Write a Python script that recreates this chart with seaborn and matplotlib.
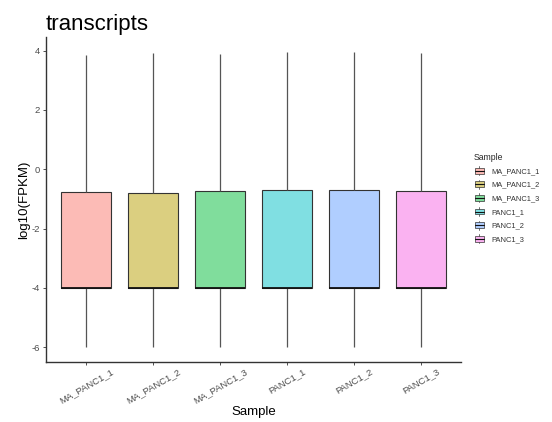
import numpy as np
import pandas as pd
import matplotlib
matplotlib.use("Agg")
import matplotlib.pyplot as plt
import seaborn as sns
from matplotlib.legend_handler import HandlerBase
from matplotlib.patches import Rectangle
from matplotlib.lines import Line2D
import matplotlib.colors as mcolors

samples = ["MA_PANC1_1", "MA_PANC1_2", "MA_PANC1_3", "PANC1_1", "PANC1_2", "PANC1_3"]
whisk_low = [-6.0, -6.0, -6.0, -6.0, -6.0, -6.0]
q1 = [-4.0, -4.0, -4.0, -4.0, -4.0, -4.0]
median = [-4.0, -4.0, -4.0, -4.0, -4.0, -4.0]
q3 = [-0.76, -0.80, -0.73, -0.70, -0.70, -0.73]
whisk_high = [3.86, 3.92, 3.89, 3.96, 3.94, 3.92]
base_colors = ["#F8766D", "#B79F00", "#00BA38", "#00BFC4", "#619CFF", "#F564E3"]
y_ticks = [-6, -4, -2, 0, 2, 4]
y_ticklabels = ["-6", "-4", "-2", "0", "2", "4"]

def blend(c, a=0.5):
    r, g, b = mcolors.to_rgb(c)
    return (1 - a + a * r, 1 - a + a * g, 1 - a + a * b)

fills = [blend(c) for c in base_colors]

rows = []
for s, lo, a, m, b, hi in zip(samples, whisk_low, q1, median, q3, whisk_high):
    for v in (lo, a, m, b, hi):
        rows.append({"Sample": s, "value": v})
df = pd.DataFrame(rows)

sns.set_theme(style="white")
plt.rcParams["font.family"] = ["Liberation Sans", "DejaVu Sans"]
plt.rcParams["axes.unicode_minus"] = False

W, H = 552, 422
fig = plt.figure(figsize=(W / 100, H / 100), dpi=100)
ax = fig.add_axes([46 / W, (H - 362) / H, (461 - 46) / W, (362 - 37) / H])

pal = dict(zip(samples, fills))
sns.boxplot(data=df, x="Sample", y="value", hue="Sample", order=samples,
            hue_order=samples, palette=pal, width=0.75, whis=np.inf,
            showcaps=False, dodge=False, legend=False, ax=ax,
            linewidth=0.8, linecolor="#333333",
            whiskerprops=dict(color="#555555", linewidth=0.9),
            medianprops=dict(color="#111111", linewidth=1.3),
            boxprops=dict(edgecolor="#333333", linewidth=0.8),
            saturation=1)

ax.set_xlim(-0.6, 5.6)
ax.set_ylim(-6.5, 4.46)
ax.set_yticks(y_ticks)
ax.set_yticklabels(y_ticklabels)
for sp in ["top", "right"]:
    ax.spines[sp].set_visible(False)
for sp in ["left", "bottom"]:
    ax.spines[sp].set_color("#333333")
    ax.spines[sp].set_linewidth(1.0)
ax.tick_params(axis="both", which="major", length=2.5, width=0.6, color="#333333",
               labelsize=6.8, labelcolor="#4D4D4D", pad=2, left=True, bottom=True)
ax.tick_params(axis="x", pad=1)
for lab in ax.get_xticklabels():
    lab.set_rotation(30)
    lab.set_ha("center")
    lab.set_va("top")
ax.set_xlabel("Sample", fontsize=9.5, color="black", labelpad=1)
ax.set_ylabel("log10(FPKM)", fontsize=9.5, color="black", labelpad=0.5)
ax.set_title("transcripts", loc="left", fontsize=16, color="black", pad=5)


class HandlerBox(HandlerBase):
    def create_artists(self, legend, orig_handle, xdescent, ydescent, width, height, fontsize, trans):
        x0, y0 = -xdescent, -ydescent
        cx = x0 + width / 2
        wl = Line2D([cx, cx], [y0, y0 + height], color="#555555", lw=0.6, transform=trans)
        rect = Rectangle((x0 + width * 0.05, y0 + height * 0.18), width * 0.9, height * 0.64,
                         facecolor=orig_handle.get_facecolor(), edgecolor="#333333", lw=0.5,
                         transform=trans)
        med = Line2D([x0 + width * 0.05, x0 + width * 0.95], [y0 + height / 2, y0 + height / 2],
                     color="#111111", lw=0.8, transform=trans)
        return [wl, rect, med]


handles = [Rectangle((0, 0), 1, 1, facecolor=f) for f in fills]
hmap = {h: HandlerBox() for h in handles}
leg = fig.legend(handles, samples, handler_map=hmap, loc="upper left",
                 bbox_to_anchor=(474 / W, (H - 152.5) / H), frameon=False,
                 fontsize=5.4, title="Sample", title_fontsize=6.2,
                 handlelength=1.35, handleheight=1.5, handletextpad=0.9,
                 labelspacing=0.6, borderpad=0, borderaxespad=0, alignment="left")
for t in leg.get_texts():
    t.set_color("#333333")

fig.savefig("out.png", dpi=100)
